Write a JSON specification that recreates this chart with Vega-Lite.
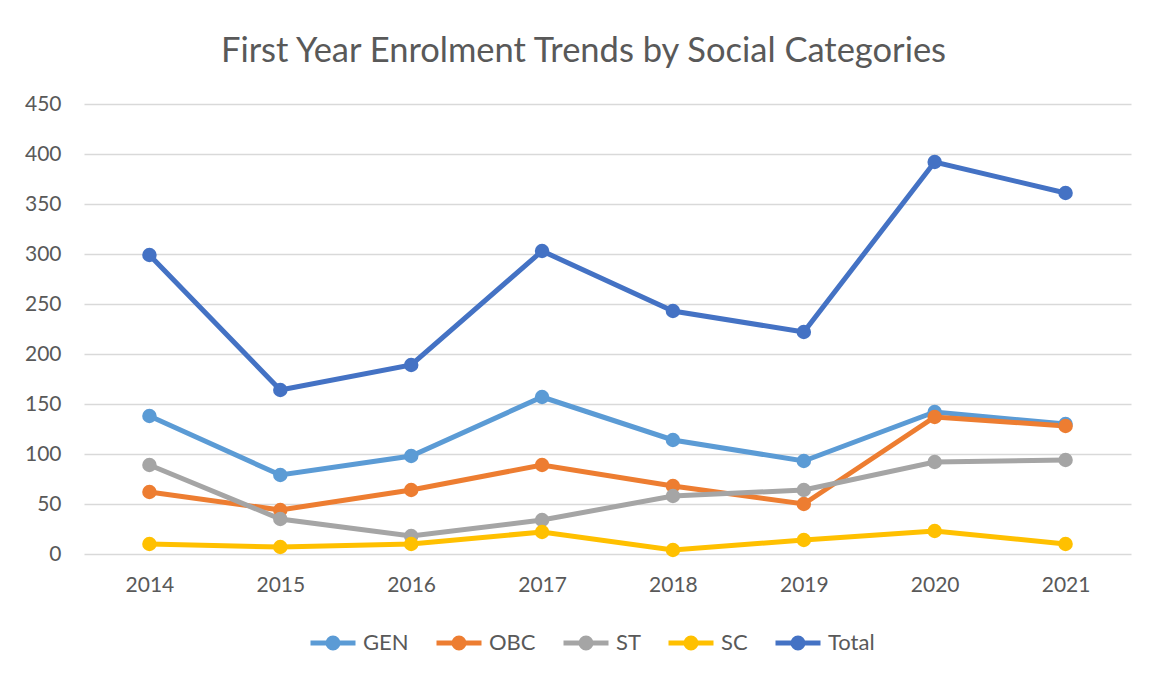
{
  "$schema": "https://vega.github.io/schema/vega-lite/v6.json",
  "width": 1047,
  "height": 450,
  "autosize": "none",
  "padding": {"left": 84, "top": 104, "right": 22, "bottom": 121},
  "background": "white",
  "title": {
    "text": "First Year Enrolment Trends by Social Categories",
    "font": "Lato",
    "fontSize": 34.5,
    "fontWeight": "normal",
    "color": "#595959",
    "anchor": "middle",
    "dx": -24,
    "offset": 24
  },
  "config": {
    "view": {"stroke": null},
    "font": "Lato"
  },
  "data": {
    "values": [
      {"year": "2014", "category": "GEN", "value": 138},
      {"year": "2015", "category": "GEN", "value": 79},
      {"year": "2016", "category": "GEN", "value": 98},
      {"year": "2017", "category": "GEN", "value": 157},
      {"year": "2018", "category": "GEN", "value": 114},
      {"year": "2019", "category": "GEN", "value": 93},
      {"year": "2020", "category": "GEN", "value": 142},
      {"year": "2021", "category": "GEN", "value": 130},
      {"year": "2014", "category": "OBC", "value": 62},
      {"year": "2015", "category": "OBC", "value": 44},
      {"year": "2016", "category": "OBC", "value": 64},
      {"year": "2017", "category": "OBC", "value": 89},
      {"year": "2018", "category": "OBC", "value": 68},
      {"year": "2019", "category": "OBC", "value": 50},
      {"year": "2020", "category": "OBC", "value": 137},
      {"year": "2021", "category": "OBC", "value": 128},
      {"year": "2014", "category": "ST", "value": 89},
      {"year": "2015", "category": "ST", "value": 35},
      {"year": "2016", "category": "ST", "value": 18},
      {"year": "2017", "category": "ST", "value": 34},
      {"year": "2018", "category": "ST", "value": 58},
      {"year": "2019", "category": "ST", "value": 64},
      {"year": "2020", "category": "ST", "value": 92},
      {"year": "2021", "category": "ST", "value": 94},
      {"year": "2014", "category": "SC", "value": 10},
      {"year": "2015", "category": "SC", "value": 7},
      {"year": "2016", "category": "SC", "value": 10},
      {"year": "2017", "category": "SC", "value": 22},
      {"year": "2018", "category": "SC", "value": 4},
      {"year": "2019", "category": "SC", "value": 14},
      {"year": "2020", "category": "SC", "value": 23},
      {"year": "2021", "category": "SC", "value": 10},
      {"year": "2014", "category": "Total", "value": 299},
      {"year": "2015", "category": "Total", "value": 164},
      {"year": "2016", "category": "Total", "value": 189},
      {"year": "2017", "category": "Total", "value": 303},
      {"year": "2018", "category": "Total", "value": 243},
      {"year": "2019", "category": "Total", "value": 222},
      {"year": "2020", "category": "Total", "value": 392},
      {"year": "2021", "category": "Total", "value": 361}
    ]
  },
  "mark": {
    "type": "line",
    "strokeWidth": 5,
    "point": {"filled": true, "size": 210, "opacity": 1}
  },
  "encoding": {
    "x": {
      "field": "year",
      "type": "ordinal",
      "scale": {"type": "point", "padding": 0.5},
      "axis": {
        "title": null,
        "labelAngle": 0,
        "labelFont": "Lato",
        "labelFontSize": 21,
        "labelColor": "#595959",
        "labelPadding": 20,
        "ticks": false,
        "domain": false,
        "grid": false
      }
    },
    "y": {
      "field": "value",
      "type": "quantitative",
      "scale": {"domain": [0, 450], "nice": false, "zero": true},
      "axis": {
        "title": null,
        "values": [0, 50, 100, 150, 200, 250, 300, 350, 400, 450],
        "labelFont": "Lato",
        "labelFontSize": 21,
        "labelColor": "#595959",
        "labelPadding": 23,
        "ticks": false,
        "domain": false,
        "grid": true,
        "gridColor": "#D9D9D9",
        "gridWidth": 1.3
      }
    },
    "color": {
      "field": "category",
      "type": "nominal",
      "sort": null,
      "scale": {
        "domain": ["GEN", "OBC", "ST", "SC", "Total"],
        "range": ["#5B9BD5", "#ED7D31", "#A5A5A5", "#FFC000", "#4472C4"]
      },
      "legend": {
        "title": null,
        "orient": "none",
        "direction": "horizontal",
        "legendX": 224,
        "legendY": 514,
        "symbolType": "M-1,0L1,0M-0.22,0A0.22,0.22,0,1,1,0.22,0A0.22,0.22,0,1,1,-0.22,0Z",
        "symbolSize": 2025,
        "symbolStrokeWidth": 5,
        "labelFont": "Lato",
        "labelFontSize": 22,
        "labelColor": "#595959",
        "labelOffset": 5,
        "columnPadding": 17,
        "encode": {
          "symbols": {
            "update": {
              "fill": {"field": "value", "scale": "color"},
              "stroke": {"field": "value", "scale": "color"},
              "opacity": {"value": 1}
            }
          }
        }
      }
    }
  }
}
